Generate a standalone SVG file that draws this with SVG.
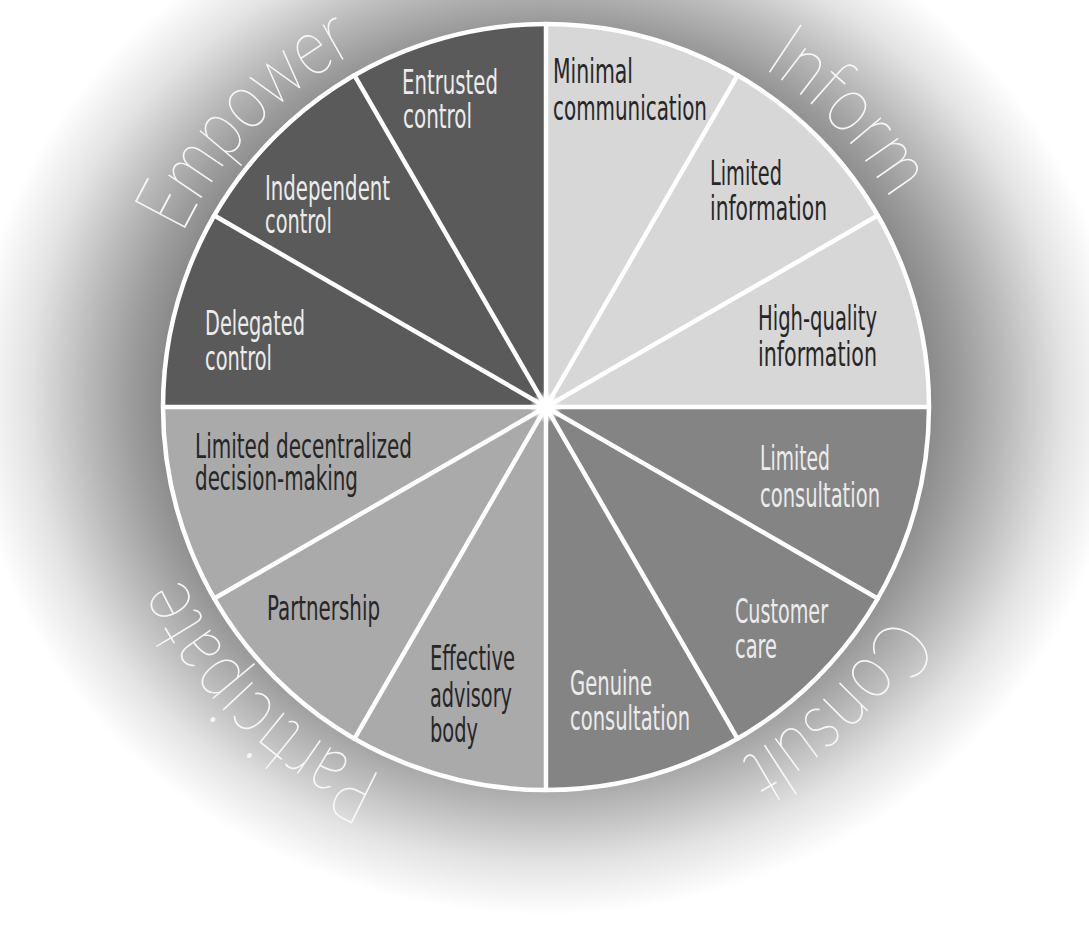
<svg xmlns="http://www.w3.org/2000/svg" xmlns:xlink="http://www.w3.org/1999/xlink" width="1089" height="950" viewBox="0 0 1089 950">
<defs>
<radialGradient id="glow" gradientUnits="userSpaceOnUse" cx="0" cy="0" r="1" gradientTransform="translate(546,395) scale(575,520)">
<stop offset="0" stop-color="#808080"/>
<stop offset="0.66" stop-color="#888888"/>
<stop offset="0.72" stop-color="#9b9b9b"/>
<stop offset="0.80" stop-color="#bababa"/>
<stop offset="0.90" stop-color="#e3e3e3"/>
<stop offset="1" stop-color="#ffffff"/>
</radialGradient>
<radialGradient id="hub">
<stop offset="0" stop-color="#ffffff" stop-opacity="1"/>
<stop offset="0.5" stop-color="#ffffff" stop-opacity="0.9"/>
<stop offset="1" stop-color="#ffffff" stop-opacity="0"/>
</radialGradient>
<path id="ring" d="M143,407 A403,403 0 1 1 949,407 A403,403 0 1 1 143,407"/>
<style>
.empower{fill:#5a5a5a}
.inform{fill:#d7d7d7}
.consult{fill:#848484}
.participate{fill:#aaaaaa}
.t{font-family:"DejaVu Sans Condensed","Liberation Sans Narrow","DejaVu Sans",sans-serif;font-stretch:condensed;font-size:33px}
.light{fill:#ececec}
.dark{fill:#262626}
.div{stroke:#ffffff;stroke-width:4.5;fill:none;stroke-linecap:round}
.lbl{font-family:"Lato","Open Sans","DejaVu Sans",sans-serif;font-weight:100;font-size:80px;fill:#f8f8f8;fill-opacity:0.9;stroke:#f8f8f8;stroke-opacity:0.9;stroke-width:0.9;text-anchor:middle}
</style>
</defs>
<rect width="1089" height="950" fill="#ffffff"/>
<rect width="1089" height="950" fill="url(#glow)"/>

<g id="sector-delegated-control">
<path class="empower" d="M546,407 L163,407 A383,383 0 0 1 214.31,215.5 Z"/>
<text class="t light" x="205" y="335" textLength="100" lengthAdjust="spacingAndGlyphs">Delegated</text>
<text class="t light" x="205" y="370" textLength="67" lengthAdjust="spacingAndGlyphs">control</text>
</g>
<g id="sector-independent-control">
<path class="empower" d="M546,407 L214.31,215.5 A383,383 0 0 1 354.5,75.31 Z"/>
<text class="t light" x="265" y="200" textLength="125" lengthAdjust="spacingAndGlyphs">Independent</text>
<text class="t light" x="265" y="233" textLength="67" lengthAdjust="spacingAndGlyphs">control</text>
</g>
<g id="sector-entrusted-control">
<path class="empower" d="M546,407 L354.5,75.31 A383,383 0 0 1 546,24 Z"/>
<text class="t light" x="402" y="94" textLength="96" lengthAdjust="spacingAndGlyphs">Entrusted</text>
<text class="t light" x="403" y="128" textLength="69" lengthAdjust="spacingAndGlyphs">control</text>
</g>

<g id="sector-minimal-communication">
<path class="inform" d="M546,407 L546,24 A383,383 0 0 1 737.5,75.31 Z"/>
<text class="t dark" x="553" y="83" textLength="80" lengthAdjust="spacingAndGlyphs">Minimal</text>
<text class="t dark" x="553" y="120" textLength="154" lengthAdjust="spacingAndGlyphs">communication</text>
</g>
<g id="sector-limited-information">
<path class="inform" d="M546,407 L737.5,75.31 A383,383 0 0 1 877.69,215.5 Z"/>
<text class="t dark" x="710" y="185" textLength="72" lengthAdjust="spacingAndGlyphs">Limited</text>
<text class="t dark" x="710" y="220" textLength="117" lengthAdjust="spacingAndGlyphs">information</text>
</g>
<g id="sector-high-quality-information">
<path class="inform" d="M546,407 L877.69,215.5 A383,383 0 0 1 929,407 Z"/>
<text class="t dark" x="758" y="330" textLength="119" lengthAdjust="spacingAndGlyphs">High-quality</text>
<text class="t dark" x="758" y="366" textLength="119" lengthAdjust="spacingAndGlyphs">information</text>
</g>

<g id="sector-limited-consultation">
<path class="consult" d="M546,407 L929,407 A383,383 0 0 1 877.69,598.5 Z"/>
<text class="t light" x="760" y="470" textLength="70" lengthAdjust="spacingAndGlyphs">Limited</text>
<text class="t light" x="760" y="507" textLength="120" lengthAdjust="spacingAndGlyphs">consultation</text>
</g>
<g id="sector-customer-care">
<path class="consult" d="M546,407 L877.69,598.5 A383,383 0 0 1 737.5,738.69 Z"/>
<text class="t light" x="735" y="623" textLength="93" lengthAdjust="spacingAndGlyphs">Customer</text>
<text class="t light" x="735" y="658" textLength="42" lengthAdjust="spacingAndGlyphs">care</text>
</g>
<g id="sector-genuine-consultation">
<path class="consult" d="M546,407 L737.5,738.69 A383,383 0 0 1 546,790 Z"/>
<text class="t light" x="570" y="695" textLength="82" lengthAdjust="spacingAndGlyphs">Genuine</text>
<text class="t light" x="570" y="730" textLength="120" lengthAdjust="spacingAndGlyphs">consultation</text>
</g>

<g id="sector-effective-advisory-body">
<path class="participate" d="M546,407 L546,790 A383,383 0 0 1 354.5,738.69 Z"/>
<text class="t dark" x="430" y="670" textLength="85" lengthAdjust="spacingAndGlyphs">Effective</text>
<text class="t dark" x="430" y="707" textLength="82" lengthAdjust="spacingAndGlyphs">advisory</text>
<text class="t dark" x="430" y="742" textLength="48" lengthAdjust="spacingAndGlyphs">body</text>
</g>
<g id="sector-partnership">
<path class="participate" d="M546,407 L354.5,738.69 A383,383 0 0 1 214.31,598.5 Z"/>
<text class="t dark" x="267" y="620" textLength="113" lengthAdjust="spacingAndGlyphs">Partnership</text>
</g>
<g id="sector-limited-decentralized-decision-making">
<path class="participate" d="M546,407 L214.31,598.5 A383,383 0 0 1 163,407 Z"/>
<text class="t dark" x="195" y="458" textLength="217" lengthAdjust="spacingAndGlyphs">Limited decentralized</text>
<text class="t dark" x="195" y="490" textLength="163" lengthAdjust="spacingAndGlyphs">decision-making</text>
</g>

<g id="connectors">
<circle class="div" cx="546" cy="407" r="383"/>
<line class="div" x1="163" y1="407" x2="929" y2="407"/>
<line class="div" x1="546" y1="24" x2="546" y2="790"/>
<line class="div" x1="214.31" y1="215.5" x2="877.69" y2="598.5"/>
<line class="div" x1="354.5" y1="75.31" x2="737.5" y2="738.69"/>
<line class="div" x1="737.5" y1="75.31" x2="354.5" y2="738.69"/>
<line class="div" x1="877.69" y1="215.5" x2="214.31" y2="598.5"/>
<circle cx="546" cy="407" r="16" fill="url(#hub)"/>
</g>

<g id="quadrant-labels">
<text class="lbl"><textPath xlink:href="#ring" href="#ring" startOffset="307" textLength="257" lengthAdjust="spacingAndGlyphs">Empower</textPath></text>
<text class="lbl"><textPath xlink:href="#ring" href="#ring" startOffset="955" textLength="186" lengthAdjust="spacingAndGlyphs">Inform</textPath></text>
<text class="lbl"><textPath xlink:href="#ring" href="#ring" startOffset="1590" textLength="211" lengthAdjust="spacingAndGlyphs">Consult</textPath></text>
<text class="lbl"><textPath xlink:href="#ring" href="#ring" startOffset="2211" textLength="290" lengthAdjust="spacingAndGlyphs">Participate</textPath></text>
</g>
</svg>
